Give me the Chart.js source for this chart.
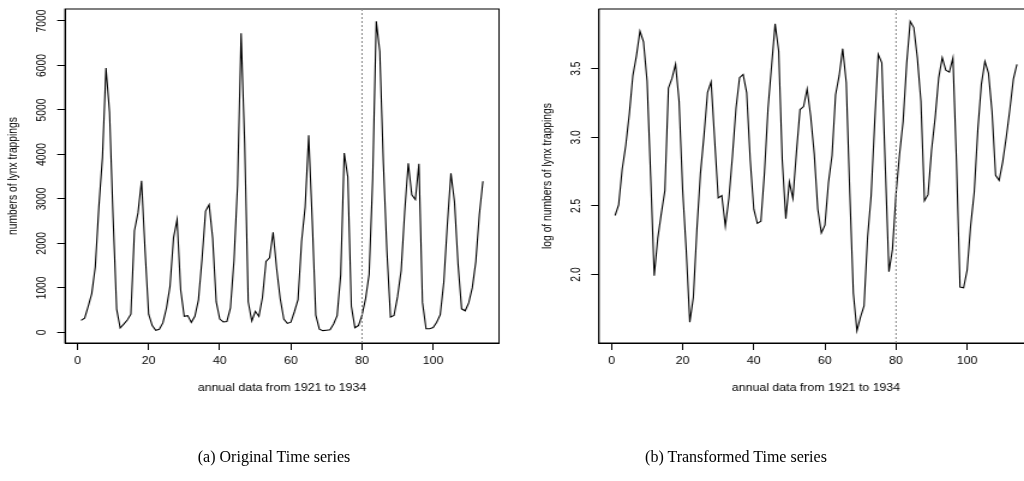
<!DOCTYPE html>
<html>
<head>
<meta charset="utf-8">
<script src="https://cdn.jsdelivr.net/npm/chart.js@4.4.0/dist/chart.umd.min.js"></script>
<style>
html, body { margin: 0; padding: 0; background: #fff; overflow: hidden; width: 1024px; height: 481px; position: relative; }
canvas { position: absolute; top: 0; }
.cap { position: absolute; top: 447px; line-height: 19px; font-family: "Liberation Serif", serif; font-size: 16px; color: #000;
       white-space: nowrap; transform: translateX(-50%); }
</style>
</head>
<body>
<canvas id="c1"></canvas>
<canvas id="c2"></canvas>
<div class="cap" style="left:274px">(a) Original Time series</div>
<div class="cap" style="left:736px">(b) Transformed Time series</div>
<script>
// lynx trappings, 114 years
const lynx = [
  269, 321, 585, 871, 1475, 2821, 3928, 5943, 4950, 2577,
  523, 98, 184, 279, 409, 2285, 2685, 3409, 1824, 409,
  151, 45, 68, 213, 546, 1033, 2129, 2536, 957, 361,
  377, 225, 360, 731, 1638, 2725, 2871, 2119, 684, 299,
  236, 245, 552, 1623, 3311, 6721, 4254, 687, 255, 473,
  358, 784, 1594, 1676, 2251, 1426, 756, 299, 201, 229,
  469, 736, 2042, 2811, 4431, 2511, 389, 73, 39, 49,
  59, 188, 377, 1292, 4031, 3495, 587, 105, 153, 387,
  758, 1307, 3465, 6991, 6313, 3794, 1836, 345, 382, 808,
  1388, 2713, 3800, 3091, 2985, 3790, 674, 81, 80, 108,
  229, 399, 1132, 2432, 3574, 2935, 1537, 529, 485, 662,
  1000, 1590, 2657, 3396
]
const logLynx = [
  2.430, 2.507, 2.767, 2.940, 3.169, 3.450, 3.594, 3.774, 3.695, 3.411,
  2.719, 1.991, 2.265, 2.446, 2.612, 3.359, 3.429, 3.533, 3.261, 2.612,
  2.179, 1.653, 1.833, 2.328, 2.737, 3.014, 3.328, 3.404, 2.981, 2.558,
  2.576, 2.352, 2.556, 2.864, 3.214, 3.435, 3.458, 3.326, 2.835, 2.476,
  2.373, 2.389, 2.742, 3.210, 3.520, 3.827, 3.629, 2.837, 2.407, 2.675,
  2.554, 2.894, 3.202, 3.224, 3.352, 3.154, 2.879, 2.476, 2.303, 2.360,
  2.671, 2.867, 3.310, 3.449, 3.646, 3.400, 2.590, 1.863, 1.591, 1.690,
  1.771, 2.274, 2.576, 3.111, 3.605, 3.543, 2.769, 2.021, 2.185, 2.588,
  2.880, 3.116, 3.540, 3.845, 3.800, 3.579, 3.264, 2.538, 2.582, 2.907,
  3.142, 3.433, 3.580, 3.490, 3.475, 3.579, 2.829, 1.908, 1.903, 2.033,
  2.360, 2.601, 3.054, 3.386, 3.553, 3.468, 3.187, 2.723, 2.686, 2.821,
  3.000, 3.201, 3.424, 3.531
]
const xTicks = [0, 20, 40, 60, 80, 100]
const yTicksA = [0, 1000, 2000, 3000, 4000, 5000, 6000, 7000]
const yLabelsA = ["0", "1000", "2000", "3000", "4000", "5000", "6000", "7000"]
const yTicksB = [2.0, 2.5, 3.0, 3.5]
const yLabelsB = ["2.0", "2.5", "3.0", "3.5"]
const splitAt = 80
const xTitle = "annual data from 1921 to 1934"
const yTitleA = "numbers of lynx trappings"
const yTitleB = "log of numbers of lynx trappings"

// the original figure is stretched sideways, so draw narrow and widen with css
const SX = 1.2
const FONT = "10.3px 'Liberation Sans', Arial, sans-serif"

// R style axis limits (4% extra each side)
function rRange(arr){
  let lo = Math.min(...arr), hi = Math.max(...arr)
  let d = (hi - lo) * 0.04
  return [lo - d, hi + d]
}

const rStyle = {
  id: "rStyle",
  afterDatasetsDraw(chart, args, o){
    const {ctx, chartArea: a, scales: {x, y}} = chart
    ctx.save()
    ctx.strokeStyle = "#000"
    ctx.lineWidth = 1
    ctx.strokeRect(a.left, a.top, a.right - a.left, a.bottom - a.top)

    let px = x.getPixelForValue(o.split)
    ctx.strokeStyle = "#8a8a8a"
    ctx.setLineDash([2, 2])
    ctx.beginPath(); ctx.moveTo(px, a.top); ctx.lineTo(px, a.bottom); ctx.stroke()
    ctx.setLineDash([])

    ctx.fillStyle = "#000"
    ctx.font = FONT
    ctx.textAlign = "center"
    ctx.textBaseline = "middle"
    y.ticks.forEach((t, i) => {
      let py = y.getPixelForValue(t.value)
      ctx.save()
      ctx.translate(a.left - 19, py)
      ctx.rotate(-Math.PI / 2)
      ctx.fillText(o.yLabels[i], 0, 0)
      ctx.restore()
    })
    ctx.save()
    ctx.translate(a.left - 43, (a.top + a.bottom) / 2)
    ctx.rotate(-Math.PI / 2)
    ctx.fillText(o.yTitle, 0, 0)
    ctx.restore()
    ctx.fillText(o.xTitle, (a.left + a.right) / 2, 388)
    ctx.restore()
  }
}

function make_panel(id, cssLeft, cssWidth, boxLeft, boxRight, values, yTicks, yLabels, yTitle){
  const c = document.getElementById(id)
  let w = Math.round(cssWidth / SX)
  let k = cssWidth / w
  c.width = w
  c.height = 481
  c.style.left = cssLeft + "px"
  c.style.width = cssWidth + "px"
  c.style.height = "481px"

  let leftIn = (boxLeft - cssLeft) / k
  let rightPad = w - (boxRight - cssLeft) / k
  let xs = values.map((v, i) => i + 1)
  let [xmin, xmax] = rRange(xs)
  let [ymin, ymax] = rRange(values)

  return new Chart(c.getContext("2d"), {
    type: "line",
    data: {
      datasets: [{
        data: values.map((v, i) => ({x: xs[i], y: v})),
        borderColor: "#000",
        borderWidth: 1.1,
        pointRadius: 0,
        tension: 0,
        fill: false
      }]
    },
    options: {
      responsive: false,
      devicePixelRatio: 1,
      animation: false,
      layout: {padding: {left: 0, right: rightPad, top: 9, bottom: 0}},
      plugins: {
        legend: {display: false},
        tooltip: {enabled: false},
        rStyle: {split: splitAt, yLabels: yLabels, yTitle: yTitle, xTitle: xTitle}
      },
      scales: {
        x: {
          type: "linear",
          min: xmin, max: xmax,
          afterBuildTicks: s => { s.ticks = xTicks.map(v => ({value: v})) },
          afterFit: s => { s.height = 481 - 343 },
          grid: {drawOnChartArea: false, drawTicks: true, tickLength: 7, color: "#000"},
          border: {display: true, color: "#000"},
          ticks: {autoSkip: false, maxRotation: 0, padding: 5, color: "#000",
                  font: {family: "'Liberation Sans', Arial, sans-serif", size: 10.3}}
        },
        y: {
          type: "linear",
          min: ymin, max: ymax,
          afterBuildTicks: s => { s.ticks = yTicks.map(v => ({value: v})) },
          afterFit: s => { s.width = leftIn },
          grid: {drawOnChartArea: false, drawTicks: true, tickLength: 6.5, color: "#000"},
          border: {display: true, color: "#000"},
          ticks: {display: false}
        }
      }
    },
    plugins: [rStyle]
  })
}

make_panel("c1", 0, 520, 65, 499, lynx, yTicksA, yLabelsA, yTitleA)
make_panel("c2", 520, 534, 599, 1033, logLynx, yTicksB, yLabelsB, yTitleB)
</script>
</body>
</html>
